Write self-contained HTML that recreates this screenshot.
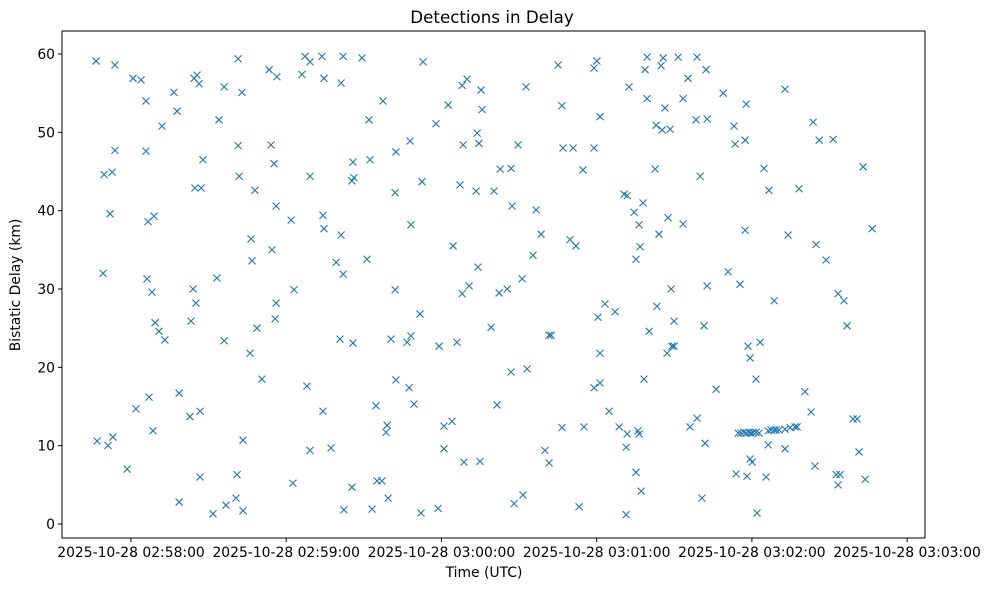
<!DOCTYPE html>
<html><head><meta charset="utf-8"><style>
body{margin:0;background:#fff;}
svg{display:block;font-family:"DejaVu Sans","Liberation Sans",sans-serif;}
</style></head><body>
<svg id="chart" width="989" height="590" xmlns="http://www.w3.org/2000/svg">
<rect x="0" y="0" width="989" height="590" fill="#fff"/>
<text x="492" y="23" font-size="16.7" text-anchor="middle">Detections in Delay</text>
<text x="484" y="577" font-size="13.9" text-anchor="middle">Time (UTC)</text>
<text x="20" y="285" font-size="13.9" text-anchor="middle" transform="rotate(-90 20 285)">Bistatic Delay (km)</text>
<g id="marks"></g>
<g id="axes"></g>
<rect x="62" y="31" width="863" height="507" fill="none" stroke="#000" stroke-width="1"/>
</svg>
<script>
// seconds after 02:58:00
const times = [-13.5,-13.1,-10.8,-10.4,-8.9,-8.1,-7.3,-7.0,-6.2,-6.2,-1.5,0.8,1.9,3.9,5.8,5.8,6.2,6.6,7.0,8.1,8.5,8.9,9.3,10.8,12.0,13.1,16.6,17.8,18.6,18.6,22.8,23.2,24.0,24.4,24.7,25.1,25.5,26.3,26.7,26.7,27.1,27.8,31.7,33.2,34.0,36.0,36.0,36.7,40.6,41.0,41.4,41.4,41.8,42.9,43.3,43.3,46.0,46.4,46.8,47.9,48.7,50.6,53.4,54.1,54.5,55.3,55.7,56.1,56.4,56.1,61.9,62.6,63.0,66.1,67.3,68.0,69.2,69.2,69.2,73.8,74.2,74.2,74.6,74.6,77.3,79.3,80.8,81.2,81.2,82.0,82.0,82.3,85.4,85.4,85.8,85.8,86.2,89.3,91.2,92.0,92.4,93.2,94.7,95.1,97.0,97.4,98.6,99.0,99.4,100.5,102.1,102.1,102.4,102.4,106.7,107.5,107.9,108.2,108.2,109.4,111.7,112.1,112.5,112.9,117.9,118.7,119.1,121.0,121.0,122.6,124.1,124.5,126.0,127.2,128.0,128.0,128.4,128.7,129.9,130.7,133.4,133.8,134.1,134.5,134.9,135.3,135.7,139.2,140.3,141.5,142.3,142.7,145.4,146.9,146.9,147.3,148.1,149.6,151.2,151.5,152.7,153.1,155.4,156.6,158.5,160.0,161.6,161.6,162.4,165.1,166.6,166.6,167.0,169.7,170.9,172.0,173.2,174.7,175.1,179.0,179.0,179.0,180.1,180.5,181.3,181.3,181.3,183.2,184.8,187.1,188.7,190.6,191.4,191.8,191.4,191.8,192.5,194.5,195.2,195.2,196.0,196.4,196.4,196.8,197.2,197.9,198.3,198.7,199.5,199.5,200.3,202.6,203.0,203.3,204.1,204.9,205.3,205.7,206.4,207.2,207.6,208.4,208.8,209.1,209.9,209.9,211.5,213.4,213.4,215.3,216.1,218.4,218.8,218.8,220.0,220.7,221.5,221.9,222.3,222.7,222.7,226.2,228.9,230.8,233.1,233.5,233.9,235.4,237.4,237.8,237.4,238.5,238.1,239.3,239.3,240.1,241.6,242.0,243.2,244.7,245.5,246.6,248.6,246.3,252.8,252.8,254.0,256.7,258.2,260.5,262.9,263.7,264.4,264.8,266.0,268.7,271.4,272.6,273.3,273.3,274.1,275.6,276.8,279.1,280.7,281.4,283.0,283.8,286.5,234.7,235.8,237.0,237.8,238.9,239.7,240.5,241.6,242.8,246.3,247.4,248.6,249.4,250.5,252.8,254.8,257.5];
const delays = [59.1,10.6,32.0,44.6,10.0,39.6,44.9,11.1,58.6,47.7,7.0,56.9,14.7,56.7,54.0,47.6,31.3,38.6,16.2,29.6,11.9,39.3,25.7,24.6,50.8,23.5,55.1,52.7,16.7,2.8,13.7,25.9,30.0,56.9,42.9,28.2,57.3,56.2,14.4,6.0,42.9,46.5,1.3,31.4,51.6,55.8,23.4,2.4,3.3,6.3,59.4,48.3,44.4,55.1,10.7,1.7,21.8,36.4,33.6,42.6,25.0,18.5,58.0,48.4,35.0,46.0,26.2,28.2,57.1,40.6,38.8,5.2,29.9,57.4,59.7,17.6,59.0,9.4,44.4,59.7,14.4,39.4,37.7,56.9,9.7,33.4,23.6,56.3,36.9,59.7,31.9,1.8,4.7,43.8,23.1,46.2,44.2,59.5,33.8,51.6,46.5,1.9,15.1,5.5,5.5,54.0,11.7,12.6,3.3,23.6,42.3,29.9,47.5,18.4,23.2,17.4,48.9,24.0,38.2,15.3,26.8,1.4,43.7,59.0,51.1,2.0,22.7,12.5,9.6,53.5,13.1,35.5,23.2,43.3,56.0,29.4,48.4,7.9,56.8,30.4,42.5,49.9,32.8,48.6,8.0,55.4,52.9,25.1,42.5,15.2,29.5,45.3,30.0,45.4,19.4,40.6,2.6,48.4,31.3,3.7,55.8,19.8,34.3,40.1,37.0,9.4,24.1,7.8,24.1,58.6,53.4,12.3,48.0,36.3,48.0,35.5,2.2,45.2,12.4,58.2,48.0,17.4,59.1,26.4,52.0,21.8,18.0,28.1,14.4,27.1,12.4,42.1,9.8,41.9,1.2,11.5,55.8,39.8,33.8,6.6,11.9,38.2,11.5,35.4,4.2,41.0,18.5,58.0,59.6,54.3,24.6,45.3,50.9,27.8,37.0,58.5,50.3,59.5,53.1,21.8,39.1,50.4,30.0,22.7,25.9,22.7,59.6,54.3,38.3,56.9,12.4,51.6,13.5,59.6,44.4,3.3,25.3,10.3,58.0,30.4,51.7,17.2,55.0,32.2,50.8,48.5,6.4,30.6,37.5,53.6,49.0,22.7,6.1,21.2,8.3,7.9,18.5,1.4,23.2,45.4,6.0,42.6,28.5,10.1,55.5,9.6,36.9,12.4,42.8,16.9,14.3,51.3,7.4,35.7,49.0,33.7,49.1,6.3,5.0,29.4,6.3,28.5,25.3,13.4,13.4,9.2,45.6,5.7,37.7,11.6,11.6,11.7,11.6,11.7,11.6,11.7,11.7,11.6,11.9,12.0,12.0,12.0,12.0,12.1,12.3,12.4];
const xTickSeconds = [0,60,120,180,240,300];
const xTickLabels = ["2025-10-28 02:58:00","2025-10-28 02:59:00","2025-10-28 03:00:00","2025-10-28 03:01:00","2025-10-28 03:02:00","2025-10-28 03:03:00"];
const yTicks = [0,10,20,30,40,50,60];

const NS="http://www.w3.org/2000/svg";
const xs = t => 131 + t*2.587;
const ys = d => 524 - d*7.833;
const marks=document.getElementById('marks');
const axes=document.getElementById('axes');
for(let i=0;i<times.length;i++){
  const x=xs(times[i]), y=ys(delays[i]), s=3.5;
  const p=document.createElementNS(NS,'path');
  p.setAttribute('d',`M${x-s},${y-s}L${x+s},${y+s}M${x-s},${y+s}L${x+s},${y-s}`);
  p.setAttribute('stroke','#1f77b4');p.setAttribute('stroke-width','1.1');p.setAttribute('fill','none');
  
  
  marks.appendChild(p);
}
xTickSeconds.forEach((t,i)=>{
  const x=xs(t);
  const l=document.createElementNS(NS,'line');
  l.setAttribute('x1',x);l.setAttribute('x2',x);l.setAttribute('y1',538);l.setAttribute('y2',542);l.setAttribute('stroke','#000');
  
  
  axes.appendChild(l);
  const tx=document.createElementNS(NS,'text');
  tx.setAttribute('x',x);tx.setAttribute('y',557);tx.setAttribute('font-size','13.9');tx.setAttribute('text-anchor','middle');
  tx.textContent=xTickLabels[i];
  
  
  axes.appendChild(tx);
});
yTicks.forEach(v=>{
  const y=ys(v);
  const l=document.createElementNS(NS,'line');
  l.setAttribute('x1',58);l.setAttribute('x2',62);l.setAttribute('y1',y);l.setAttribute('y2',y);l.setAttribute('stroke','#000');
  
  
  axes.appendChild(l);
  const tx=document.createElementNS(NS,'text');
  tx.setAttribute('x',55);tx.setAttribute('y',y+5);tx.setAttribute('font-size','13.9');tx.setAttribute('text-anchor','end');
  tx.textContent=v;
  
  
  axes.appendChild(tx);
});
</script>
</body></html>
